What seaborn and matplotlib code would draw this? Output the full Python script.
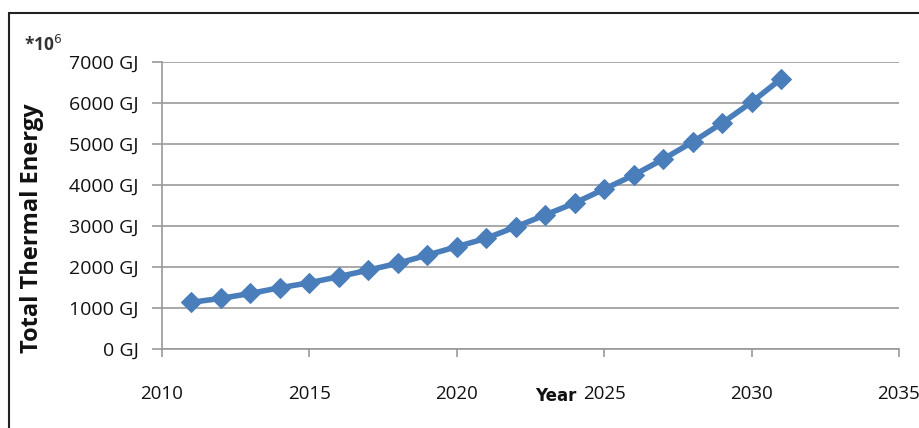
import matplotlib
matplotlib.use("Agg")
import matplotlib.pyplot as plt
import seaborn as sns
import pandas as pd
from matplotlib.patches import Rectangle

years = list(range(2011, 2032))
energy = [1140, 1235, 1355, 1495, 1615, 1765, 1925, 2090, 2290, 2495, 2700,
          2980, 3270, 3560, 3900, 4240, 4630, 5050, 5510, 6020, 6590]
x_ticks = [2010, 2015, 2020, 2025, 2030, 2035]
y_ticks = [0, 1000, 2000, 3000, 4000, 5000, 6000, 7000]
y_tick_labels = [f"{v} GJ" for v in y_ticks]

df = pd.DataFrame({"Year": years, "Energy": energy})

sns.set_style("white")
plt.rcParams['font.family'] = ['Open Sans', 'DejaVu Sans']

fig = plt.figure(figsize=(9.2, 4.28), dpi=100)
ax = fig.add_axes([162/920, 1-349/428, (899-162)/920, (349-62)/428])

sns.lineplot(data=df, x="Year", y="Energy", ax=ax, color="#4A7EBB",
             linewidth=4, marker="D", markersize=10, markeredgecolor="#4A7EBB")

ax.set_xlim(2010, 2035)
ax.set_ylim(0, 7000)
ax.set_xticks(x_ticks)
ax.set_yticks(y_ticks)
ax.set_yticklabels(y_tick_labels)
ax.set_xlabel("")
ax.set_ylabel("")
ax.yaxis.grid(True, color="#999999", linewidth=1.2)
ax.xaxis.grid(False)
for s in ["top", "right"]:
    ax.spines[s].set_visible(False)
for s in ["left", "bottom"]:
    ax.spines[s].set_color("#999999")
    ax.spines[s].set_linewidth(1.2)
ax.tick_params(axis="y", direction="out", length=7, width=1.2, color="#999999",
               labelsize=14, pad=10, left=True, labelcolor="#111111")
ax.tick_params(axis="x", direction="out", length=6, width=1.2, color="#999999",
               labelsize=13.5, pad=20, bottom=True, labelcolor="#111111")

fig.text(32/920, 1-228/428, "Total Thermal Energy", rotation=90, ha="center",
         va="center", fontsize=17, fontweight="bold", color="#111111")
fig.text(24/920, 1-45/428, "*10$^{6}$", ha="left", va="center", fontsize=12.5,
         fontweight="bold", color="#333333")
fig.text(556/920, 1-396/428, "Year", ha="center", va="center", fontsize=12,
         fontweight="bold", family=["DejaVu Sans"], color="#111111")

fig.add_artist(Rectangle((9/920, -0.1), 1.2, 1-13/428+0.1, transform=fig.transFigure,
                         fill=False, edgecolor="#222222", linewidth=1.5))

fig.savefig("out.png", dpi=100)
